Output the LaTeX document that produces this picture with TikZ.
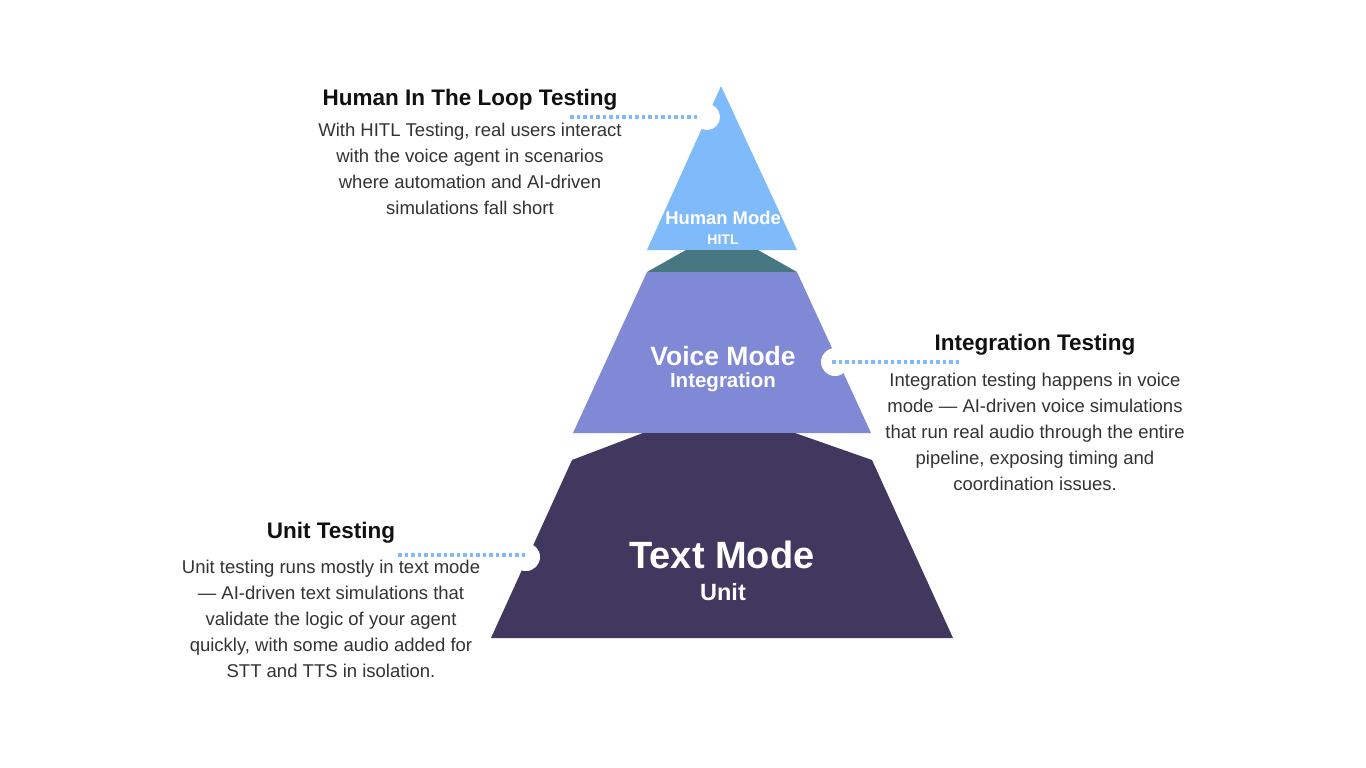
\documentclass[tikz,border=0pt]{standalone}
\usepackage{fontspec}
\setmainfont{Liberation Sans}
\definecolor{cTop}{HTML}{7FBBFA}
\definecolor{cTeal}{HTML}{477781}
\definecolor{cPur}{HTML}{7F89D6}
\definecolor{cDark}{HTML}{41385F}
\definecolor{cTxt}{HTML}{333333}
\definecolor{cTit}{HTML}{111111}
\definecolor{cDot}{HTML}{7FBBFA}
\begin{document}
\begin{tikzpicture}[x=1pt,y=-1pt,
  body/.style={text=cTxt,font=\fontsize{18.5}{26}\selectfont,align=center,inner sep=0pt},
  ttl/.style={text=cTit,font=\fontsize{22.5}{24}\selectfont\bfseries},
  lbl/.style={text=white,font=\bfseries,align=center},
  dots/.style={cDot,line width=3.5pt,dash pattern=on 3.5pt off 3pt},
  notch/.style={fill=white}]
\useasboundingbox[fill=white] (0,0) rectangle (1366,768);
\fill[cTop] (721,86) -- (797,250) -- (647,250) -- cycle;
\fill[cTeal] (686,250) -- (758,250) -- (797,272) -- (647,272) -- cycle;
\fill[cPur] (647,272) -- (797,272) -- (871,433) -- (573,433) -- cycle;
\fill[cDark] (643,433) -- (795,433) -- (872,460) -- (953,638) -- (491,638) -- (572,460) -- cycle;
\fill[notch] (707,117) circle (13);
\fill[notch] (835,362) circle (14);
\fill[notch] (526,557) circle (14);
\coordinate (d1a) at (570,117); \coordinate (d1b) at (698,117);
\coordinate (d2a) at (832,362); \coordinate (d2b) at (960,362);
\coordinate (d3a) at (398,555); \coordinate (d3b) at (527,555);
\draw[dots] (d1a) -- (d1b);
\draw[dots] (d2a) -- (d2b);
\draw[dots] (d3a) -- (d3b);
\node[lbl,font=\fontsize{18.4}{20}\selectfont\bfseries] (h1) at (723,218) {Human Mode};
\node[lbl,font=\fontsize{14}{15}\selectfont\bfseries] (h2) at (723,240) {HITL};
\node[lbl,font=\fontsize{26.5}{28}\selectfont\bfseries] (v1) at (723,356) {Voice Mode};
\node[lbl,font=\fontsize{20.5}{22}\selectfont\bfseries] (v2) at (723,382) {Integration};
\node[lbl,font=\fontsize{38}{40}\selectfont\bfseries] (t1) at (722,555) {Text Mode};
\node[lbl,font=\fontsize{23.5}{26}\selectfont\bfseries] (t2) at (723,592) {Unit};
\node[ttl] (a1) at (470,100) {Human In The Loop Testing};
\node[body] (a2) at (470,169) {With HITL Testing, real users interact\\with the voice agent in scenarios\\where automation and AI-driven\\simulations fall short};
\node[ttl] (b1) at (1035,345) {Integration Testing};
\node[body] (b2) at (1035,432) {Integration testing happens in voice\\mode — AI-driven voice simulations\\that run real audio through the entire\\pipeline, exposing timing and\\coordination issues.};
\node[ttl] (c1) at (331,533) {Unit Testing};
\node[body] (c2) at (331,619) {Unit testing runs mostly in text mode\\— AI-driven text simulations that\\validate the logic of your agent\\quickly, with some audio added for\\STT and TTS in isolation.};
\end{tikzpicture}
\end{document}
